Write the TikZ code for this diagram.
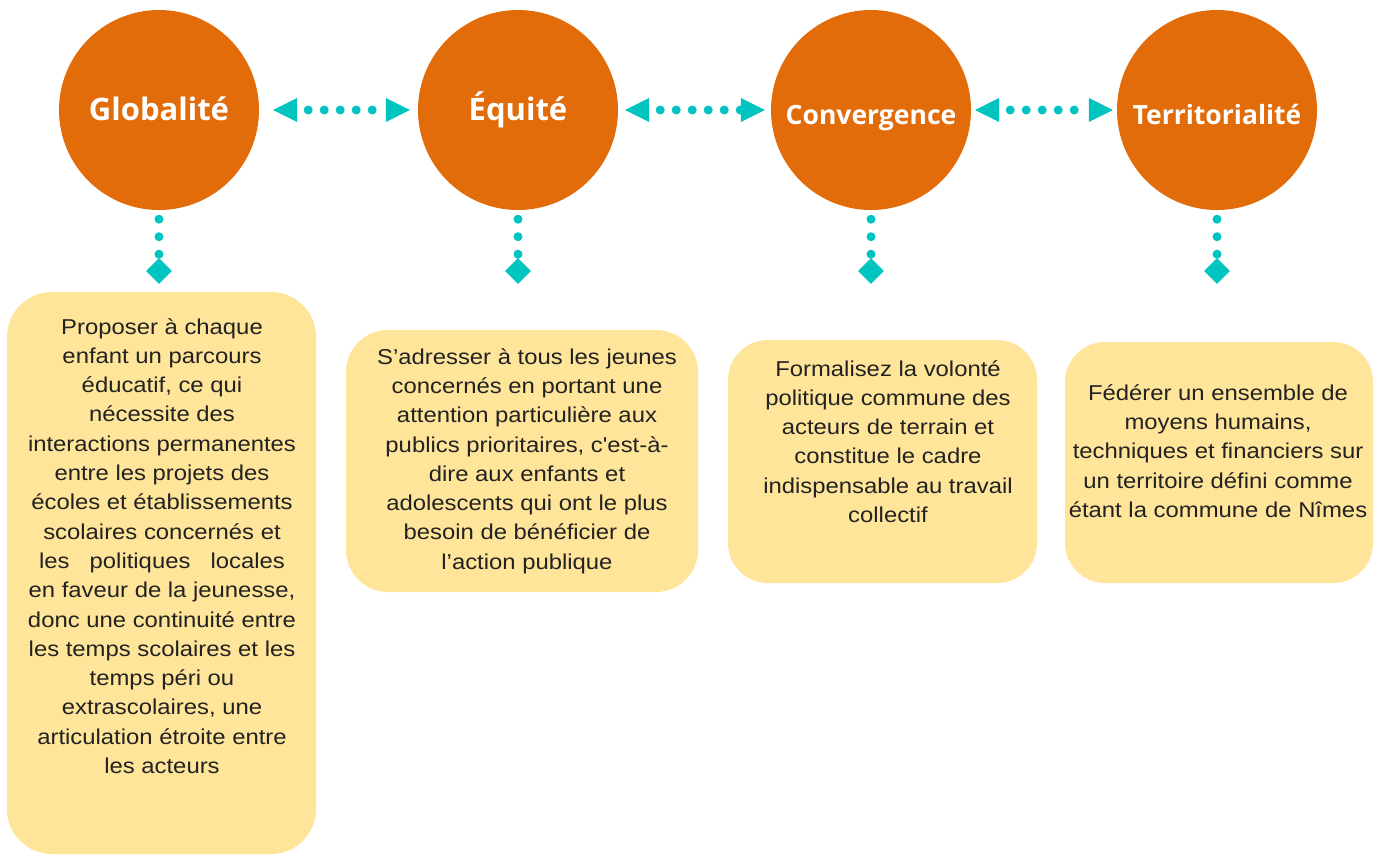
\documentclass[tikz,border=0pt]{standalone}
\usepackage{fontspec}
\setmainfont{Liberation Sans}
\newfontfamily\bodyfont[FakeStretch=1.11,Ligatures=TeXOff]{Liberation Sans}
\newfontfamily\titlefont{Open Sans}
\usetikzlibrary{arrows.meta,shapes.geometric}
\definecolor{orangeC}{HTML}{E36C0A}
\definecolor{tealC}{HTML}{00C4C0}
\definecolor{boxY}{HTML}{FFE599}
\definecolor{txtC}{HTML}{222222}
\begin{document}
\begin{tikzpicture}[x=1pt,y=-1pt,
  bigcirc/.style={circle, fill=orangeC, minimum size=200pt, inner sep=0pt, text=white,
    font=\titlefont\bfseries\fontsize{31}{33}\selectfont, text height=26pt, text depth=6pt},
  smalltitle/.style={font=\titlefont\bfseries\fontsize{26.5}{30}\selectfont, text height=34pt, text depth=6pt},
  dia/.style={diamond, fill=tealC, minimum width=26pt, minimum height=26pt, inner sep=0pt},
  ybox/.style={rectangle, rounded corners=45pt, fill=boxY, draw=none, inner sep=0pt},
  btext/.style={align=center, text=txtC, inner sep=0pt, font=\bodyfont\fontsize{21.5}{29.3}\selectfont},
  hconn/.style={draw=tealC, line width=9pt, line cap=round, dash pattern=on 0pt off 16pt, dash phase=5pt, {Triangle[length=24pt,width=24pt,line width=0pt]}-{Triangle[length=24pt,width=24pt,line width=0pt]}},
  vconn/.style={draw=tealC, line width=9pt, line cap=round, dash pattern=on 0pt off 17.5pt, dash phase=8.5pt}
]
\useasboundingbox[fill=white] (0,0) rectangle (1386,854);

% circles
\node[bigcirc] (c1) at (159,110) {Globalité};
\node[bigcirc] (c2) at (518,110) {Équité};
\node[bigcirc, smalltitle] (c3) at (871,110) {Convergence};
\node[bigcirc, smalltitle] (c4) at (1217,110) {Territorialité};

% horizontal connectors
\draw[hconn] ([xshift=14pt]c1.east) -- ([xshift=-8pt]c2.west);
\draw[hconn] ([xshift=7pt]c2.east) -- ([xshift=-6pt]c3.west);
\draw[hconn] ([xshift=4pt]c3.east) -- ([xshift=-4pt]c4.west);

% diamonds
\node[dia] (d1) at (159,271) {};
\node[dia] (d2) at (518,271) {};
\node[dia] (d3) at (871,271) {};
\node[dia] (d4) at (1217,271) {};

\draw[vconn] (c1.south) -- (d1.north);
\draw[vconn] (c2.south) -- (d2.north);
\draw[vconn] (c3.south) -- (d3.north);
\draw[vconn] (c4.south) -- (d4.north);

% boxes
\node[ybox, minimum width=309pt, minimum height=562pt] (b1) at (161.5,573) {};
\node[ybox, minimum width=352pt, minimum height=262pt, rounded corners=42pt] (b2) at (522,461) {};
\node[ybox, minimum width=309pt, minimum height=243pt, rounded corners=40pt] (b3) at (882.5,461.5) {};
\node[ybox, minimum width=308pt, minimum height=241pt, rounded corners=40pt] (b4) at (1219,462.5) {};

% texts
\node[btext] (t1) at (162,546) {Proposer à chaque\\enfant un parcours\\éducatif, ce qui\\nécessite des\\interactions permanentes\\entre les projets des\\écoles et établissements\\scolaires concernés et\\\makebox[246pt][s]{les politiques locales}\\en faveur de la jeunesse,\\donc une continuité entre\\les temps scolaires et les\\temps péri ou\\extrascolaires, une\\articulation étroite entre\\les acteurs};
\node[btext] (t2) at (527,461) {S’adresser à tous les jeunes\\concernés en portant une\\attention particulière aux\\publics prioritaires, c'est-à-\\dire aux enfants et\\adolescents qui ont le plus\\besoin de bénéficier de\\l’action publique};
\node[btext] (t3) at (888,441.5) {Formalisez la volonté\\politique commune des\\acteurs de terrain et\\constitue le cadre\\indispensable au travail\\collectif};
\node[btext] (t4) at (1218,451) {Fédérer un ensemble de\\moyens humains,\\techniques et financiers sur\\un territoire défini comme\\étant la commune de Nîmes};
\end{tikzpicture}
\end{document}
